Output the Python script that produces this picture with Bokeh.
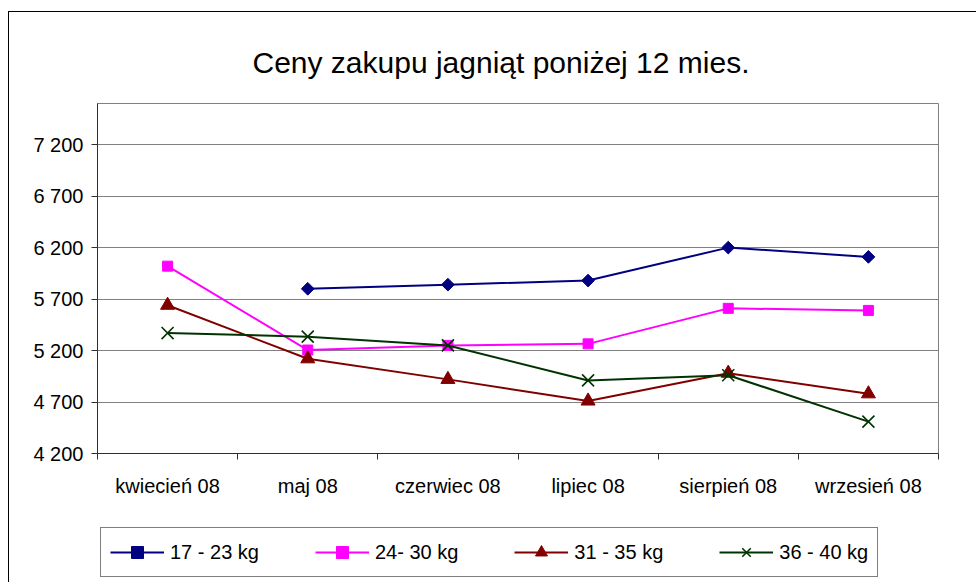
import math
from bokeh.plotting import figure
from bokeh.layouts import column
from bokeh.models import FixedTicker, Legend, LegendItem, ColumnDataSource
from bokeh.embed import file_html
from bokeh.resources import INLINE

# ---- data ----
months = ["kwiecień 08", "maj 08", "czerwiec 08", "lipiec 08", "sierpień 08", "wrzesień 08"]
series_names = ["17 - 23 kg", "24- 30 kg", "31 - 35 kg", "36 - 40 kg"]
s_17_23 = [float("nan"), 5800, 5840, 5880, 6200, 6110]
s_24_30 = [6020, 5205, 5250, 5265, 5610, 5590]
s_31_35 = [5640, 5120, 4920, 4710, 4980, 4780]
s_36_40 = [5370, 5335, 5250, 4910, 4960, 4510]
y_ticks = [4200, 4700, 5200, 5700, 6200, 6700, 7200]
y_tick_labels = ["4 200", "4 700", "5 200", "5 700", "6 200", "6 700", "7 200"]
title_text = "Ceny zakupu jagniąt poniżej 12 mies."

FONT = "Liberation Sans"

x_pos = [i + 0.5 for i in range(len(months))]
bounds = [i for i in range(len(months) + 1)]

p = figure(width=967, height=508, x_range=(0, len(months)), y_range=(4200, 7600),
           output_backend="svg", toolbar_location=None,
           min_border_left=88, min_border_right=38, min_border_top=91, min_border_bottom=67)

p.title.text = title_text
p.title.text_font = FONT
p.title.text_font_size = "30px"
p.title.text_font_style = "normal"
p.title.text_color = "black"
p.title.align = "left"
p.title.offset = 155
p.title.standoff = 49

p.outline_line_color = "#808080"
p.outline_line_width = 1
p.background_fill_color = "white"
p.border_fill_color = "white"

# grid
p.xgrid.visible = False
p.ygrid.ticker = FixedTicker(ticks=y_ticks)
p.ygrid.grid_line_color = "#808080"
p.ygrid.grid_line_width = 1.2

# y axis
p.yaxis.ticker = FixedTicker(ticks=y_ticks)
p.yaxis.major_label_overrides = {t: l for t, l in zip(y_ticks, y_tick_labels)}
p.yaxis.major_label_text_font = FONT
p.yaxis.major_label_text_font_size = "20px"
p.yaxis.major_label_text_color = "black"
p.yaxis.major_tick_out = 6
p.yaxis.major_tick_in = 0
p.yaxis.minor_tick_line_color = None
p.yaxis.axis_line_color = "#303030"
p.yaxis.major_tick_line_color = "#303030"
p.yaxis.major_label_standoff = 8

# x axis
p.xaxis.ticker = FixedTicker(ticks=x_pos, minor_ticks=bounds)
p.xaxis.major_label_overrides = {x: m for x, m in zip(x_pos, months)}
p.xaxis.major_label_text_font = FONT
p.xaxis.major_label_text_font_size = "20px"
p.xaxis.major_label_text_color = "black"
p.xaxis.major_tick_line_color = None
p.xaxis.major_tick_out = 0
p.xaxis.major_tick_in = 0
p.xaxis.minor_tick_out = 6
p.xaxis.minor_tick_in = 0
p.xaxis.minor_tick_line_color = "#303030"
p.xaxis.axis_line_color = "#303030"
p.xaxis.major_label_standoff = 15

styles = [
    dict(color="#000080", marker="square", size=9, angle=math.pi / 4, lw=1),
    dict(color="#FF00FF", marker="square", size=10, angle=0, lw=1),
    dict(color="#800000", marker="triangle", size=14, angle=0, lw=1),
    dict(color="#003300", marker="x", size=17, angle=0, lw=1.6),
]

# legend strip (its own figure below the chart; its ranges keep the series out of view)
pl = figure(width=967, height=62, x_range=(0, 1), y_range=(0, 1),
            output_backend="svg", toolbar_location=None,
            min_border_left=0, min_border_right=0, min_border_top=0, min_border_bottom=0)
pl.axis.visible = False
pl.grid.visible = False
pl.outline_line_color = None
pl.background_fill_color = "white"
pl.border_fill_color = "white"

items = []
for name, vals, st in zip(series_names, [s_17_23, s_24_30, s_31_35, s_36_40], styles):
    src = ColumnDataSource(dict(x=x_pos, y=vals))
    p.line("x", "y", source=src, line_color=st["color"], line_width=2)
    p.scatter("x", "y", source=src, marker=st["marker"], size=st["size"], angle=st["angle"],
              fill_color=st["color"], line_color=st["color"], line_width=st["lw"])
    ln = pl.line("x", "y", source=src, line_color=st["color"], line_width=2)
    sc = pl.scatter("x", "y", source=src, marker=st["marker"], size=st["size"], angle=st["angle"],
                    fill_color=st["color"], line_color=st["color"], line_width=st["lw"])
    items.append(LegendItem(label=name, renderers=[ln, sc]))

legend = Legend(items=items, orientation="horizontal", location=(3, 5))
legend.label_text_font = FONT
legend.label_text_font_size = "20px"
legend.label_text_color = "black"
legend.label_height = 20
legend.glyph_height = 30
legend.glyph_width = 54
legend.label_standoff = 6
legend.spacing = 56
legend.padding = 9
legend.margin = 0
legend.border_line_color = "black"
legend.border_line_width = 1
legend.background_fill_color = "white"
legend.background_fill_alpha = 1
pl.add_layout(legend, "center")

layout = column(p, pl, spacing=0)
layout.styles = {"border-left": "1px solid #000000", "border-top": "1px solid #000000",
                 "margin-top": "11px", "margin-left": "8px"}

open("out.html", "w").write(file_html(layout, INLINE))
